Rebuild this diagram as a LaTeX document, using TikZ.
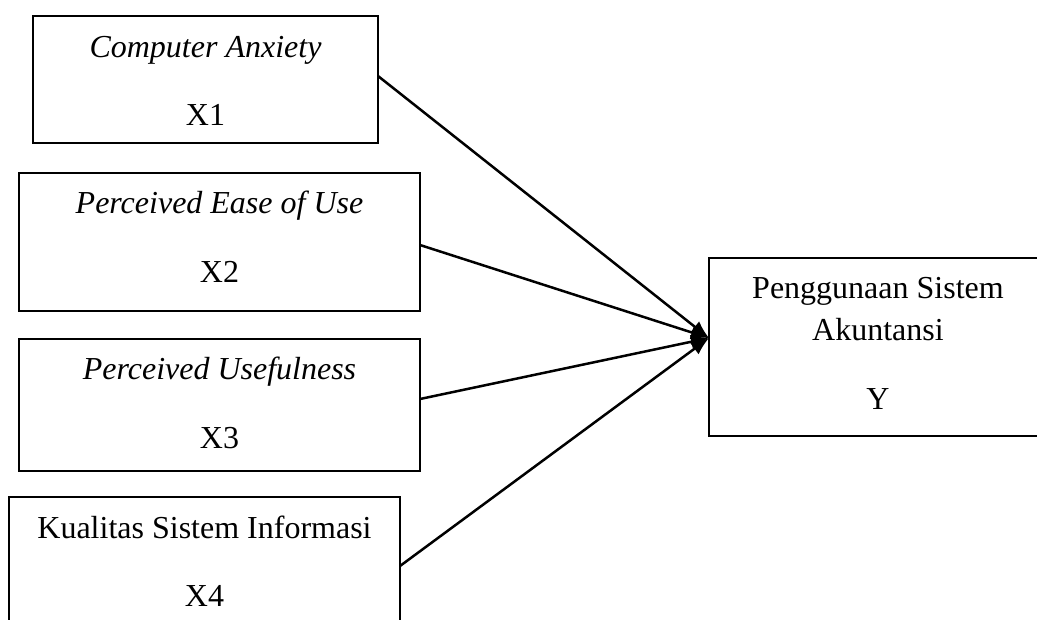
\documentclass[tikz,border=0pt]{standalone}
\usepackage{fontspec}
\setmainfont{Liberation Serif}
\usetikzlibrary{arrows.meta}
\tikzset{
  boxframe/.style={draw=black, line width=2pt, rectangle, inner sep=0pt},
  lbl/.style={anchor=base, inner sep=0pt, font=\fontsize{32}{38}\selectfont},
  conn/.style={line width=2.5pt, -{Latex[length=18pt,width=14pt]}}
}
\begin{document}
\begin{tikzpicture}[x=1pt,y=-1pt]
\useasboundingbox (0,0) rectangle (1037,619);
\clip (0,0) rectangle (1037,619);
% boxes
\node[boxframe, minimum width=345pt, minimum height=127pt] (b1) at (205.5,79.5) {};
\node[boxframe, minimum width=401pt, minimum height=138pt] (b2) at (219.5,242) {};
\node[boxframe, minimum width=401pt, minimum height=132pt] (b3) at (219.5,405) {};
\node[boxframe, minimum width=391pt, minimum height=138pt] (b4) at (204.5,566) {};
\node[boxframe, minimum width=340pt, minimum height=178pt] (by) at (879,347) {};
% texts
\node[lbl] (t1a) at (205.5,57) {\itshape Computer Anxiety};
\node[lbl] (t1b) at (205.5,125) {X1};
\node[lbl] (t2a) at (219.5,213) {\itshape Perceived Ease of Use};
\node[lbl] (t2b) at (219.5,282) {X2};
\node[lbl] (t3a) at (219.5,379) {\itshape Perceived Usefulness};
\node[lbl] (t3b) at (219.5,448) {X3};
\node[lbl] (t4a) at (204.5,538) {Kualitas Sistem Informasi};
\node[lbl] (t4b) at (204.5,606) {X4};
\node[lbl] (tya) at (878,298) {Penggunaan Sistem};
\node[lbl] (tyb) at (878,340) {Akuntansi};
\node[lbl] (tyc) at (878,409) {Y};
% connectors
\coordinate (tip) at (709,338);
\coordinate (s1) at (378,76);
\coordinate (s2) at (420,245);
\coordinate (s3) at (420,399);
\coordinate (s4) at (400,566);
\draw[conn] (s1) -- (tip);
\draw[conn] (s2) -- (tip);
\draw[conn] (s3) -- (tip);
\draw[conn] (s4) -- (tip);
\end{tikzpicture}
\end{document}
